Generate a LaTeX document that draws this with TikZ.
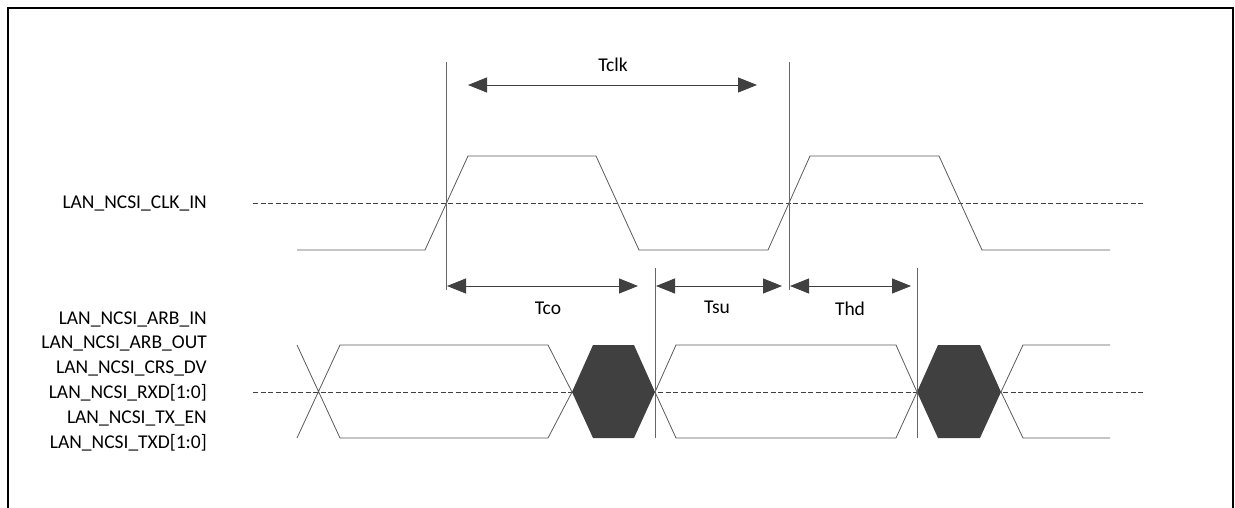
\documentclass[tikz,border=0pt]{standalone}
\usepackage{fontspec}
\setmainfont{Carlito}
\usetikzlibrary{arrows.meta}
\definecolor{wavegray}{HTML}{5A5A5A}
\definecolor{darkfill}{HTML}{404040}

\begin{document}
\begin{tikzpicture}[x=1pt,y=-1pt]
\tikzstyle{every node}+=[inner sep=0pt,font=\fontsize{19.5}{23}\selectfont]
\tikzstyle{wave}=[draw=wavegray,line width=0.8pt]
\tikzstyle{mid}=[draw=darkfill,line width=0.9pt,dash pattern=on 5pt off 2.5pt]
\tikzstyle{edge}=[draw=black!60,line width=0.8pt]
\tikzstyle{dim}=[draw=darkfill,line width=0.8pt,{Triangle[length=19pt,width=15pt]}-{Triangle[length=19pt,width=15pt]}]
\tikzstyle{sig}=[anchor=east]
\useasboundingbox (0,0) rectangle (1235,508);
% frame
\draw [black,line width=2.2pt] (8,510) -- (8,8) -- (1233,8) -- (1233,510);
% signal names
\node [sig] (clkname) at (207,203) {LAN\_NCSI\_CLK\_IN};
\node [sig] (arbin) at (207,319) {LAN\_NCSI\_ARB\_IN};
\node [sig] (arbout) at (207,343) {LAN\_NCSI\_ARB\_OUT};
\node [sig] (crsdv) at (207,368) {LAN\_NCSI\_CRS\_DV};
\node [sig] (rxd) at (207,393) {LAN\_NCSI\_RXD[1:0]};
\node [sig] (txen) at (207,418) {LAN\_NCSI\_TX\_EN};
\node [sig] (txd) at (207,443) {LAN\_NCSI\_TXD[1:0]};
% reference levels
\draw [mid] (253,203) -- (1143,203);
\draw [mid] (253,392) -- (1143,392);
% clock
\draw [wave] (297,250) -- (425,250) -- (468,156) -- (596,156) -- (639,250)
  -- (768,250) -- (810,156) -- (939,156) -- (982,250) -- (1110,250);
% data
\draw [wave] (297,345) -- (340,438) -- (548,438) -- (572,392) -- (548,345) -- (340,345) -- (297,438);
\fill [darkfill] (572,392) -- (593,345) -- (634,345) -- (655,392) -- (634,438) -- (593,438) -- cycle;
\draw [wave] (655,392) -- (676,345) -- (896,345) -- (917,392) -- (896,438) -- (676,438) -- cycle;
\fill [darkfill] (917,392) -- (938,345) -- (980,345) -- (1001,392) -- (980,438) -- (938,438) -- cycle;
\draw [wave] (1110,345) -- (1023,345) -- (1001,392) -- (1023,438) -- (1110,438);
% edges
\coordinate (riseA) at (446,62);
\coordinate (riseAend) at (446,290);
\coordinate (riseB) at (789,62);
\coordinate (riseBend) at (789,290);
\coordinate (validA) at (655,268);
\coordinate (validAend) at (655,438);
\coordinate (validB) at (917,268);
\coordinate (validBend) at (917,438);
\draw [edge] (riseA) -- (riseAend);
\draw [edge] (riseB) -- (riseBend);
\draw [edge] (validA) -- (validAend);
\draw [edge] (validB) -- (validBend);
% timings
\coordinate (tclkL) at (468,85);
\coordinate (tclkR) at (757,85);
\coordinate (tcoL) at (447,286);
\coordinate (tcoR) at (638,286);
\coordinate (tsuL) at (656,286);
\coordinate (tsuR) at (782,286);
\coordinate (thdL) at (790,286);
\coordinate (thdR) at (911,286);
\draw [dim] (tclkL) -- (tclkR);
\draw [dim] (tcoL) -- (tcoR);
\draw [dim] (tsuL) -- (tsuR);
\draw [dim] (thdL) -- (thdR);
\node (tclk) at (613,65) {Tclk};
\node (tco) at (548,308) {Tco};
\node (tsu) at (717,307) {Tsu};
\node (thd) at (850,309) {Thd};
\end{tikzpicture}
\end{document}
